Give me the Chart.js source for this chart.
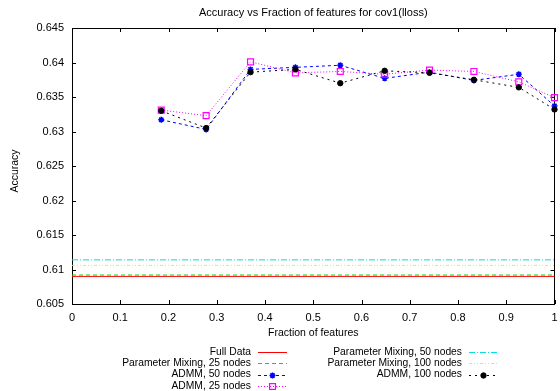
<!DOCTYPE html>
<html>
<head>
<meta charset="utf-8">
<title>Accuracy vs Fraction of features</title>
<script src="https://cdn.jsdelivr.net/npm/chart.js@4.4.0/dist/chart.umd.min.js"></script>
<style>
  html, body { margin: 0; padding: 0; background: #fff; }
  #grafico { display: block; }
</style>
</head>
<body>
<canvas id="grafico" width="560" height="391"></canvas>
<script>
// fracciones de features (10/54 ... 54/54)
const fracciones = [0.185, 0.278, 0.370, 0.463, 0.556, 0.648, 0.741, 0.833, 0.926, 1.0];

// ADMM
const admm50  = [0.6317, 0.6303, 0.6390, 0.6393, 0.6396, 0.6377, 0.6386, 0.6374, 0.6383, 0.6337];
const admm25  = [0.6331, 0.6323, 0.6401, 0.6385, 0.6387, 0.6383, 0.6389, 0.6387, 0.6372, 0.6349];
const admm100 = [0.6330, 0.6305, 0.6386, 0.6390, 0.6370, 0.6388, 0.6385, 0.6375, 0.6364, 0.6332];

// lineas horizontales
const fullData = 0.6090;
const pm25  = 0.6092;
const pm50  = 0.6114;
const pm100 = 0.6106;

const nombres = [
  'Full Data',
  'Parameter Mixing, 25 nodes',
  'ADMM, 50 nodes',
  'ADMM, 25 nodes',
  'Parameter Mixing, 50 nodes',
  'Parameter Mixing, 100 nodes',
  'ADMM, 100 nodes'
];

const ejeX = { min: 0, max: 1, paso: 0.1 };
const ejeY = { min: 0.605, max: 0.645, paso: 0.005 };

const familia = "'Liberation Sans', Arial, sans-serif";
const fuenteTicks = { family: familia, size: 11 };
const fuenteEjes = { family: familia, size: 10.5 };
const fuenteLeyenda = 10.3;
const fuenteTitulo = 11;

function puntos (valores) {
  return valores.map((v, i) => ({ x: fracciones[i], y: v }));
}

function horizontal (valor) {
  return [{ x: ejeX.min, y: valor }, { x: ejeX.max, y: valor }];
}

function formato (v) {
  return parseFloat(Number(v).toFixed(3)).toString();
}

const series = [
  { data: horizontal(fullData), borderColor: '#ff0000', borderDash: [], pointRadius: 0 },
  { data: horizontal(pm25), borderColor: '#00e000', borderDash: [4, 3], pointRadius: 0 },
  { data: puntos(admm50), borderColor: '#0000ff', borderDash: [3, 3], pointStyle: 'star', pointRadius: 3,
    pointBorderColor: '#0000ff', pointBackgroundColor: '#0000ff', pointBorderWidth: 1.5 },
  { data: puntos(admm25), borderColor: '#ff00ff', borderDash: [1, 2], pointStyle: 'rect', pointRadius: 4.2,
    pointBorderColor: '#ff00ff', pointBackgroundColor: 'rgba(0,0,0,0)', pointBorderWidth: 1.2 },
  { data: horizontal(pm50), borderColor: '#00e0e0', borderDash: [6, 2, 1, 2], pointRadius: 0 },
  { data: horizontal(pm100), borderColor: '#f0f000', borderDash: [3, 2, 1, 2, 1, 2], pointRadius: 0 },
  { data: puntos(admm100), borderColor: '#000000', borderDash: [2, 4], pointStyle: 'circle', pointRadius: 2.7,
    pointBorderColor: '#000000', pointBackgroundColor: '#000000', pointBorderWidth: 1 }
];

const datasets = series.map((s, i) => Object.assign({
  label: nombres[i],
  showLine: true,
  borderWidth: 1,
  fill: false,
  tension: 0,
  clip: false,
  order: series.length - 1 - i
}, s));

// marco, marcas hacia adentro, titulos y leyenda estilo gnuplot
const marco = {
  id: 'marco',
  beforeDatasetsDraw (chart) {
    const { ctx, chartArea: a, scales } = chart;
    ctx.save();
    ctx.strokeStyle = '#000';
    ctx.lineWidth = 1;
    ctx.setLineDash([]);
    ctx.strokeRect(Math.round(a.left) + 0.5, Math.round(a.top) + 0.5,
      Math.round(a.right - a.left) - 1, Math.round(a.bottom - a.top));
    const largo = 4;
    ctx.beginPath();
    scales.x.ticks.forEach(t => {
      const px = Math.round(scales.x.getPixelForValue(t.value)) + 0.5;
      ctx.moveTo(px, a.bottom); ctx.lineTo(px, a.bottom - largo);
      ctx.moveTo(px, a.top); ctx.lineTo(px, a.top + largo);
    });
    scales.y.ticks.forEach(t => {
      const py = Math.round(scales.y.getPixelForValue(t.value)) + 0.5;
      ctx.moveTo(a.left, py); ctx.lineTo(a.left + largo, py);
      ctx.moveTo(a.right, py); ctx.lineTo(a.right - largo, py);
    });
    ctx.stroke();
    ctx.restore();
  },
  afterDraw (chart) {
    const { ctx, chartArea: a } = chart;
    ctx.save();
    ctx.fillStyle = '#000';
    ctx.textBaseline = 'middle';

    // titulo
    ctx.font = fuenteTitulo + 'px ' + familia;
    ctx.textAlign = 'center';
    ctx.fillText('Accuracy vs Fraction of features for cov1(lloss)', (a.left + a.right) / 2, 13);

    // titulo eje y
    ctx.font = fuenteEjes.size + 'px ' + familia;
    ctx.save();
    ctx.translate(15, 171);
    ctx.rotate(-Math.PI / 2);
    ctx.fillText('Accuracy', 0, 0);
    ctx.restore();

    // leyenda en dos columnas
    const finTexto = [251, 462];
    const filaY = [352, 363.3, 374.6, 385.9];
    ctx.font = fuenteLeyenda + 'px ' + familia;
    ctx.textAlign = 'right';
    chart.data.datasets.forEach((ds, i) => {
      const col = i < 4 ? 0 : 1;
      const fila = i < 4 ? i : i - 4;
      const xt = finTexto[col];
      const y = filaY[fila];
      ctx.fillStyle = '#000';
      ctx.fillText(ds.label, xt, y);

      const x0 = xt + 7, x1 = xt + 36;
      ctx.save();
      ctx.strokeStyle = ds.borderColor;
      ctx.lineWidth = 1;
      ctx.setLineDash(ds.borderDash);
      ctx.beginPath();
      ctx.moveTo(x0, Math.round(y) + 0.5);
      ctx.lineTo(x1, Math.round(y) + 0.5);
      ctx.stroke();
      ctx.restore();

      if (ds.pointRadius > 0) {
        ctx.save();
        ctx.strokeStyle = ds.pointBorderColor;
        ctx.fillStyle = ds.pointBackgroundColor;
        ctx.lineWidth = ds.pointBorderWidth;
        Chart.helpers.drawPoint(ctx, {
          pointStyle: ds.pointStyle, radius: ds.pointRadius, rotation: 0, borderWidth: ds.pointBorderWidth
        }, (x0 + x1) / 2, Math.round(y) + 0.5);
        ctx.restore();
      }
    });
    ctx.restore();
  }
};

const ctx = document.getElementById('grafico').getContext('2d');

const grafico = new Chart(ctx, {
  type: 'scatter',
  data: { datasets: datasets },
  options: {
    responsive: false,
    animation: false,
    devicePixelRatio: 1,
    layout: { padding: { top: 28, right: 2, left: 0, bottom: 47 } },
    plugins: {
      legend: { display: false },
      title: { display: false },
      tooltip: { enabled: false }
    },
    scales: {
      x: {
        type: 'linear',
        min: ejeX.min,
        max: ejeX.max,
        border: { display: false },
        grid: { display: false, drawTicks: false },
        ticks: {
          stepSize: ejeX.paso,
          autoSkip: false,
          maxRotation: 0,
          padding: 7,
          color: '#000',
          font: fuenteTicks,
          callback: formato
        },
        title: {
          display: true,
          text: 'Fraction of features',
          color: '#000',
          font: fuenteEjes,
          padding: { top: 0, bottom: 5 }
        },
        afterFit (scale) {
          scale.height = 40;
          scale.paddingLeft = 0;
          scale.paddingRight = 0;
        }
      },
      y: {
        type: 'linear',
        min: ejeY.min,
        max: ejeY.max,
        border: { display: false },
        grid: { display: false, drawTicks: false },
        ticks: {
          stepSize: ejeY.paso,
          autoSkip: false,
          padding: 8,
          color: '#000',
          font: fuenteTicks,
          callback: formato
        },
        afterFit (scale) {
          scale.width = 72;
          scale.paddingTop = 0;
          scale.paddingBottom = 0;
        }
      }
    }
  },
  plugins: [marco]
});
</script>
</body>
</html>
